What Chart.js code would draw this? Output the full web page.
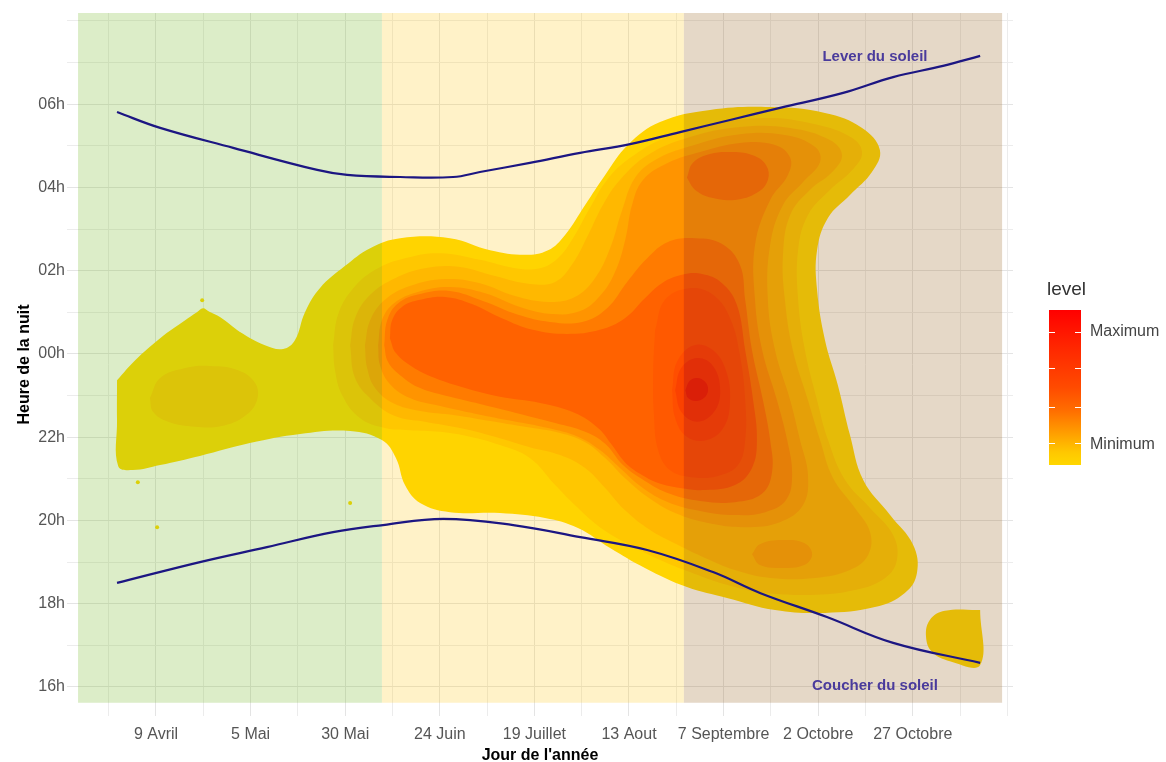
<!DOCTYPE html>
<html lang="fr">
<head>
<meta charset="utf-8">
<title>Heure de la nuit</title>
<script src="https://cdn.jsdelivr.net/npm/chart.js@4.4.1/dist/chart.umd.min.js"></script>
<style>
  html, body { margin: 0; padding: 0; background: #fff; }
  #chart { display: block; }
</style>
</head>
<body>
<canvas id="chart" width="1166" height="762"></canvas>
<script>
// axes
const dayTicks = [100, 125, 150, 175, 200, 225, 250, 275, 300];
const dayLabels = ['9 Avril', '5 Mai', '30 Mai', '24 Juin', '19 Juillet', '13 Aout', '7 Septembre', '2 Octobre', '27 Octobre'];
const hourTicks = [16, 18, 20, 22, 24, 26, 28, 30];
const hourLabels = ['16h', '18h', '20h', '22h', '00h', '02h', '04h', '06h'];

// background periods (jour de l'année)
const seasonStart = [79.4, 159.7, 239.5];
const seasonEnd = [159.7, 239.5, 323.6];
const seasonHours = [15.62, 32.19];

// sun rise / sun set [jour, heure]
const sunrise = [[89.7,29.81],[101.1,29.43],[120.4,28.95],[142.6,28.42],[150.5,28.30],[164.5,28.25],[178.5,28.25],[185.6,28.37],[198.8,28.59],[212.1,28.83],[225.3,29.04],[238.5,29.33],[251.7,29.62],[264.9,29.91],[281.6,30.27],[294.8,30.65],[308.0,30.92],[317.8,31.16]];
const sunset = [[89.7,18.50],[111.6,19.00],[129.3,19.36],[146.8,19.72],[160.0,19.89],[175.9,20.04],[194.4,19.89],[212.1,19.60],[229.8,19.29],[247.2,18.76],[259.6,18.26],[277.3,17.68],[294.8,17.06],[317.8,16.58]];
const sunText = ['Lever du soleil', 'Coucher du soleil'];
const sunTextDay = [290, 290];
const sunTextHour = [31.13, 16.02];

// density contours [jour, heure]
const level1Main = [[89.7,23.37],[94.5,23.85],[101.1,24.38],[107.7,24.81],[110.8,25.00],[112.4,25.10],[114.0,25.02],[117.0,24.88],[122.2,24.53],[128.8,24.21],[133.6,24.12],[136.7,24.33],[139.4,25.01],[143.3,25.58],[149.9,26.11],[156.6,26.54],[164.5,26.78],[177.7,26.78],[188.3,26.49],[197.5,26.38],[203.6,26.49],[208.1,26.86],[213.4,27.58],[218.7,28.30],[224.7,29.02],[233.2,29.57],[246.4,29.86],[262.3,29.93],[276.8,29.79],[286.6,29.43],[291.3,28.90],[289.2,28.37],[283.4,27.82],[277.6,27.27],[274.7,26.49],[274.7,25.54],[276.8,24.33],[280.2,23.25],[283.4,22.05],[286.9,20.97],[294.0,20.13],[300.1,19.41],[301.1,18.74],[297.9,18.26],[290.0,17.92],[276.8,17.78],[263.6,17.85],[250.9,18.14],[240.3,18.40],[229.2,18.86],[220.0,19.34],[211.5,19.82],[202.8,20.06],[190.9,20.18],[177.7,20.20],[169.8,20.42],[165.8,20.85],[163.4,21.50],[159.7,21.93],[151.3,22.15],[138.1,22.08],[124.8,21.86],[111.6,21.55],[101.1,21.33],[93.9,21.21],[90.0,21.31],[89.7,22.41]];
const level1Blob = [[317.8,17.85],[308.5,17.83],[304.5,17.61],[303.5,17.20],[305.1,16.84],[309.8,16.62],[317.8,16.53]];
const level2Lobe = [[98.4,22.94],[101.1,23.42],[107.7,23.66],[114.3,23.71],[121.7,23.61],[126.2,23.30],[126.7,22.89],[123.5,22.51],[117.4,22.27],[110.3,22.25],[103.2,22.37],[99.2,22.61]];
const level2Main = [[146.8,24.21],[148.1,24.94],[151.8,25.54],[157.9,26.02],[165.8,26.30],[175.1,26.42],[185.6,26.26],[194.9,26.06],[201.5,26.06],[206.2,26.30],[210.2,26.78],[214.7,27.51],[219.2,28.18],[225.3,28.71],[234.5,29.19],[246.4,29.50],[261.0,29.67],[274.2,29.52],[284.0,29.19],[286.6,28.83],[284.0,28.42],[278.1,27.94],[272.3,27.34],[269.7,26.50],[269.7,25.30],[271.5,24.09],[274.7,22.89],[277.6,21.93],[282.1,20.97],[288.7,20.30],[294.8,19.65],[295.8,19.05],[292.7,18.62],[284.7,18.33],[272.8,18.21],[259.6,18.28],[249.1,18.50],[241.1,18.76],[233.2,19.05],[225.3,19.41],[217.3,19.84],[210.7,20.37],[205.5,20.85],[198.8,21.50],[190.9,21.81],[183.0,22.01],[175.1,22.13],[167.1,22.17],[160.5,22.22],[153.9,22.46],[149.2,23.01],[147.3,23.61]];
const level3Main = [[151.3,24.21],[152.6,24.86],[156.6,25.42],[163.2,25.82],[171.1,26.06],[180.3,26.09],[189.6,25.87],[198.8,25.68],[205.5,25.73],[209.9,26.14],[214.2,26.86],[218.1,27.58],[222.6,28.18],[230.0,28.78],[241.1,29.21],[254.3,29.45],[267.6,29.43],[278.1,29.14],[281.3,28.78],[278.7,28.37],[272.8,27.94],[267.6,27.34],[265.7,26.38],[266.2,25.30],[268.3,24.09],[272.3,22.89],[275.5,21.93],[278.9,21.02],[284.7,20.30],[288.7,19.72],[288.2,19.17],[283.4,18.81],[274.2,18.62],[262.3,18.62],[253.0,18.81],[245.1,19.10],[238.0,19.41],[230.6,19.77],[223.9,20.25],[218.7,20.78],[213.4,21.26],[206.8,21.57],[198.8,21.76],[189.6,22.01],[180.3,22.22],[171.1,22.37],[163.2,22.51],[157.1,22.89],[152.6,23.42]];
const level4Main = [[155.2,24.21],[156.6,24.81],[160.5,25.30],[167.1,25.63],[176.4,25.80],[185.6,25.70],[194.9,25.39],[203.6,25.25],[210.7,25.37],[216.0,25.82],[220.0,26.54],[223.2,27.46],[226.6,28.23],[231.9,28.66],[241.1,28.99],[254.3,29.28],[266.2,29.26],[274.2,28.97],[275.5,28.61],[271.0,28.13],[265.7,27.58],[262.3,26.62],[261.7,25.30],[263.6,24.09],[267.6,22.89],[270.2,21.93],[272.3,21.09],[271.0,20.37],[264.9,19.96],[255.7,19.84],[245.9,19.94],[237.2,20.18],[230.0,20.56],[223.9,21.02],[218.7,21.50],[213.4,21.88],[206.8,22.10],[197.5,22.25],[188.3,22.39],[179.0,22.53],[169.8,22.63],[162.6,22.82],[157.9,23.18],[155.8,23.66]];
const level4Island = [[257.5,19.19],[259.6,19.43],[265.4,19.53],[271.3,19.46],[273.4,19.19],[271.3,18.93],[265.4,18.86],[259.6,18.93]];
const level5Main = [[158.7,24.21],[159.7,24.81],[162.9,25.22],[169.2,25.49],[177.7,25.61],[187.0,25.46],[196.2,25.13],[204.9,24.96],[212.1,25.03],[217.3,25.39],[221.3,25.97],[224.0,26.74],[225.8,27.58],[228.7,28.18],[235.3,28.59],[243.8,28.85],[254.3,29.07],[263.6,29.02],[267.6,28.71],[267.0,28.30],[262.3,27.70],[258.3,26.62],[258.3,25.30],[260.2,24.09],[264.1,22.89],[266.8,21.93],[268.1,21.09],[266.5,20.49],[261.0,20.20],[253.0,20.13],[243.8,20.23],[235.3,20.44],[228.4,20.80],[222.6,21.26],[217.3,21.69],[211.5,22.01],[203.6,22.22],[194.1,22.39],[184.6,22.56],[175.1,22.75],[167.1,22.94],[161.8,23.28],[159.2,23.73]];
const level6Main = [[160.3,24.21],[161.1,24.81],[164.0,25.22],[169.8,25.44],[177.7,25.51],[186.4,25.27],[195.7,24.94],[204.1,24.77],[212.6,24.77],[219.2,25.10],[224.5,25.73],[229.8,26.30],[235.3,26.69],[242.5,26.78],[249.6,26.64],[254.3,26.14],[255.7,25.30],[257.5,24.09],[260.4,22.89],[262.3,21.93],[262.8,21.16],[260.1,20.64],[253.0,20.44],[243.8,20.47],[235.8,20.64],[229.2,20.95],[223.4,21.33],[218.7,21.84],[213.4,22.13],[205.5,22.34],[196.2,22.56],[186.9,22.77],[177.7,22.97],[169.8,23.18],[164.5,23.49],[161.3,23.81]];
const level6Island = [[240.3,28.23],[241.9,28.59],[246.4,28.80],[251.7,28.85],[257.5,28.78],[261.2,28.54],[261.7,28.18],[258.8,27.87],[253.0,27.70],[246.9,27.75],[242.5,27.94]];
const level7Main = [[161.8,24.38],[162.4,24.81],[165.0,25.13],[169.8,25.30],[176.4,25.37],[183.5,25.20],[191.4,24.86],[199.6,24.58],[208.6,24.48],[217.3,24.58],[223.9,24.86],[229.2,25.34],[233.7,25.70],[239.0,25.90],[244.3,25.92],[249.6,25.70],[253.5,25.18],[255.7,24.09],[257.8,22.89],[258.8,21.93],[257.5,21.26],[253.0,20.85],[245.1,20.73],[238.5,20.78],[232.7,20.90],[227.9,21.12],[223.9,21.40],[220.5,21.81],[216.8,22.22],[210.7,22.58],[201.5,22.82],[190.9,22.97],[181.7,23.18],[173.7,23.42],[167.7,23.69],[163.4,24.02]];
const level8Main = [[231.9,24.57],[234.5,25.30],[241.1,25.58],[247.2,25.42],[251.7,24.86],[254.3,23.97],[255.7,22.89],[255.7,21.93],[253.8,21.33],[248.5,21.07],[241.6,21.04],[235.8,21.21],[232.7,21.69],[231.6,22.53],[231.4,23.61]];
const level9Main = [[236.4,23.13],[237.7,23.81],[242.2,24.21],[247.2,24.09],[250.6,23.61],[251.7,22.89],[250.1,22.25],[245.6,21.93],[240.3,22.01],[237.2,22.46]];
const level10Main = [[237.2,23.13],[238.8,23.66],[243.0,23.90],[247.2,23.71],[249.1,23.13],[247.5,22.61],[243.0,22.37],[238.8,22.61]];
const level11Main = [[239.9,23.13],[241.0,23.35],[243.0,23.42],[245.1,23.33],[245.9,23.13],[244.8,22.94],[242.7,22.87],[240.6,22.94]];
const isolatedPoints = [[112.2,25.29],[95.2,20.92],[100.3,19.84],[151.3,20.42]];

const contourLevels = [
  [level1Main, level1Blob],
  [level2Lobe, level2Main],
  [level3Main],
  [level4Main, level4Island],
  [level5Main],
  [level6Main, level6Island],
  [level7Main],
  [level8Main],
  [level9Main],
  [level10Main],
  [level11Main]
];

// styles
const levelColors = ['rgb(255,217,0)', 'rgb(255,200,0)', 'rgb(255,181,0)', 'rgb(255,160,0)', 'rgb(255,136,0)', 'rgb(255,104,0)', 'rgb(255,72,0)', 'rgb(255,60,0)', 'rgb(255,46,0)', 'rgb(250,30,0)', 'rgb(240,8,0)'];
const seasonColors = ['rgba(115,183,35,0.25)', 'rgba(255,195,0,0.216)', 'rgba(150,100,30,0.25)'];
const sunColor = '#1c1682';

const toXY = pts => pts.map(p => ({ x: p[0], y: p[1] }));
const closed = pts => toXY(pts.concat([pts[0]]));

const datasets = [];
contourLevels.forEach((polys, k) => {
  polys.forEach(poly => {
    datasets.push({
      data: closed(poly),
      showLine: true,
      fill: 'shape',
      backgroundColor: levelColors[k],
      borderWidth: 0,
      pointRadius: 0,
      tension: 0.4,
      order: 20 - k
    });
  });
});
datasets.push({
  data: toXY(isolatedPoints),
  backgroundColor: levelColors[0],
  borderWidth: 0,
  pointRadius: 2,
  order: 20
});
seasonStart.forEach((s, i) => {
  const e = seasonEnd[i];
  datasets.push({
    data: closed([[s, seasonHours[0]], [e, seasonHours[0]], [e, seasonHours[1]], [s, seasonHours[1]]]),
    showLine: true,
    fill: 'shape',
    backgroundColor: seasonColors[i],
    borderWidth: 0,
    pointRadius: 0,
    tension: 0,
    order: 2
  });
});
[sunrise, sunset].forEach(line => {
  datasets.push({
    data: toXY(line),
    showLine: true,
    fill: false,
    borderColor: sunColor,
    borderWidth: 2.2,
    pointRadius: 0,
    tension: 0.4,
    order: 1
  });
});

// grid positions: majors plus the minor lines in between
const gridDays = [];
for (let v = 87.5; v <= 326; v += 12.5) gridDays.push(v);
const gridHours = [];
for (let h = 16; h <= 32; h++) gridHours.push(h);

const sunTextPlugin = {
  id: 'sunText',
  afterDatasetsDraw(chart) {
    const { ctx, scales: { x, y } } = chart;
    ctx.save();
    ctx.font = 'bold 15px "Liberation Sans", Arial, sans-serif';
    ctx.fillStyle = '#4a3b9c';
    ctx.textAlign = 'center';
    ctx.textBaseline = 'middle';
    sunText.forEach((t, i) => {
      ctx.fillText(t, x.getPixelForValue(sunTextDay[i]), y.getPixelForValue(sunTextHour[i]));
    });
    ctx.restore();
  }
};

const legendPlugin = {
  id: 'levelLegend',
  afterDraw(chart) {
    const ctx = chart.ctx;
    const bx = 1049, by = 310, bw = 32, bh = 155;
    ctx.save();
    ctx.fillStyle = '#333';
    ctx.font = '19px "Liberation Sans", Arial, sans-serif';
    ctx.textBaseline = 'middle';
    ctx.fillText('level', 1047, 290);

    const g = ctx.createLinearGradient(0, by, 0, by + bh);
    g.addColorStop(0, 'rgb(255,0,0)');
    g.addColorStop(0.25, 'rgb(255,40,0)');
    g.addColorStop(0.5, 'rgb(255,75,0)');
    g.addColorStop(0.65, 'rgb(255,110,0)');
    g.addColorStop(0.8, 'rgb(255,160,0)');
    g.addColorStop(0.92, 'rgb(255,200,0)');
    g.addColorStop(1, 'rgb(255,215,0)');
    ctx.fillStyle = g;
    ctx.fillRect(bx, by, bw, bh);

    ctx.strokeStyle = '#fff';
    ctx.lineWidth = 1;
    [332, 368, 407, 443].forEach(ty => {
      ctx.beginPath();
      ctx.moveTo(bx, ty + 0.5); ctx.lineTo(bx + 6, ty + 0.5);
      ctx.moveTo(bx + bw - 6, ty + 0.5); ctx.lineTo(bx + bw, ty + 0.5);
      ctx.stroke();
    });

    ctx.fillStyle = '#444';
    ctx.font = '16px "Liberation Sans", Arial, sans-serif';
    ctx.fillText('Maximum', 1090, 332);
    ctx.fillText('Minimum', 1090, 445);
    ctx.restore();
  }
};

Chart.defaults.font.family = '"Liberation Sans", Arial, Helvetica, sans-serif';

new Chart(document.getElementById('chart'), {
  type: 'scatter',
  data: { datasets },
  options: {
    responsive: false,
    animation: false,
    events: [],
    layout: { padding: { top: 13, right: 153, bottom: 0, left: 0 } },
    plugins: {
      legend: { display: false },
      tooltip: { enabled: false }
    },
    scales: {
      x: {
        type: 'linear',
        min: 76.48,
        max: 326.48,
        afterBuildTicks: s => { s.ticks = gridDays.map(v => ({ value: v })); },
        afterFit: s => { s.height = 46; },
        border: { display: false },
        grid: {
          drawTicks: false,
          lineWidth: 1,
          color: c => dayTicks.includes(c.tick.value) ? '#e4e4e4' : '#ececec'
        },
        ticks: {
          autoSkip: false,
          maxRotation: 0,
          padding: 9,
          color: '#555',
          font: { size: 16 },
          callback: v => {
            const i = dayTicks.indexOf(v);
            return i >= 0 ? dayLabels[i] : '';
          }
        },
        title: {
          display: true,
          text: "Jour de l'année",
          color: '#000',
          font: { size: 16, weight: 'bold', lineHeight: 1 },
          padding: { top: 0, bottom: -2 }
        }
      },
      y: {
        type: 'linear',
        min: 15.303,
        max: 32.19,
        afterBuildTicks: s => { s.ticks = gridHours.map(v => ({ value: v })); },
        afterFit: s => { s.width = 67; },
        border: { display: false },
        grid: {
          drawTicks: false,
          lineWidth: 1,
          color: c => hourTicks.includes(c.tick.value) ? '#e4e4e4' : '#ececec'
        },
        ticks: {
          autoSkip: false,
          padding: 2,
          color: '#555',
          font: { size: 16 },
          callback: v => {
            const i = hourTicks.indexOf(v);
            return i >= 0 ? hourLabels[i] : '';
          }
        },
        title: {
          display: true,
          text: 'Heure de la nuit',
          color: '#000',
          font: { size: 16, weight: 'bold', lineHeight: 1 },
          padding: { top: 17, bottom: 0 }
        }
      }
    }
  },
  plugins: [sunTextPlugin, legendPlugin]
});
</script>
</body>
</html>
